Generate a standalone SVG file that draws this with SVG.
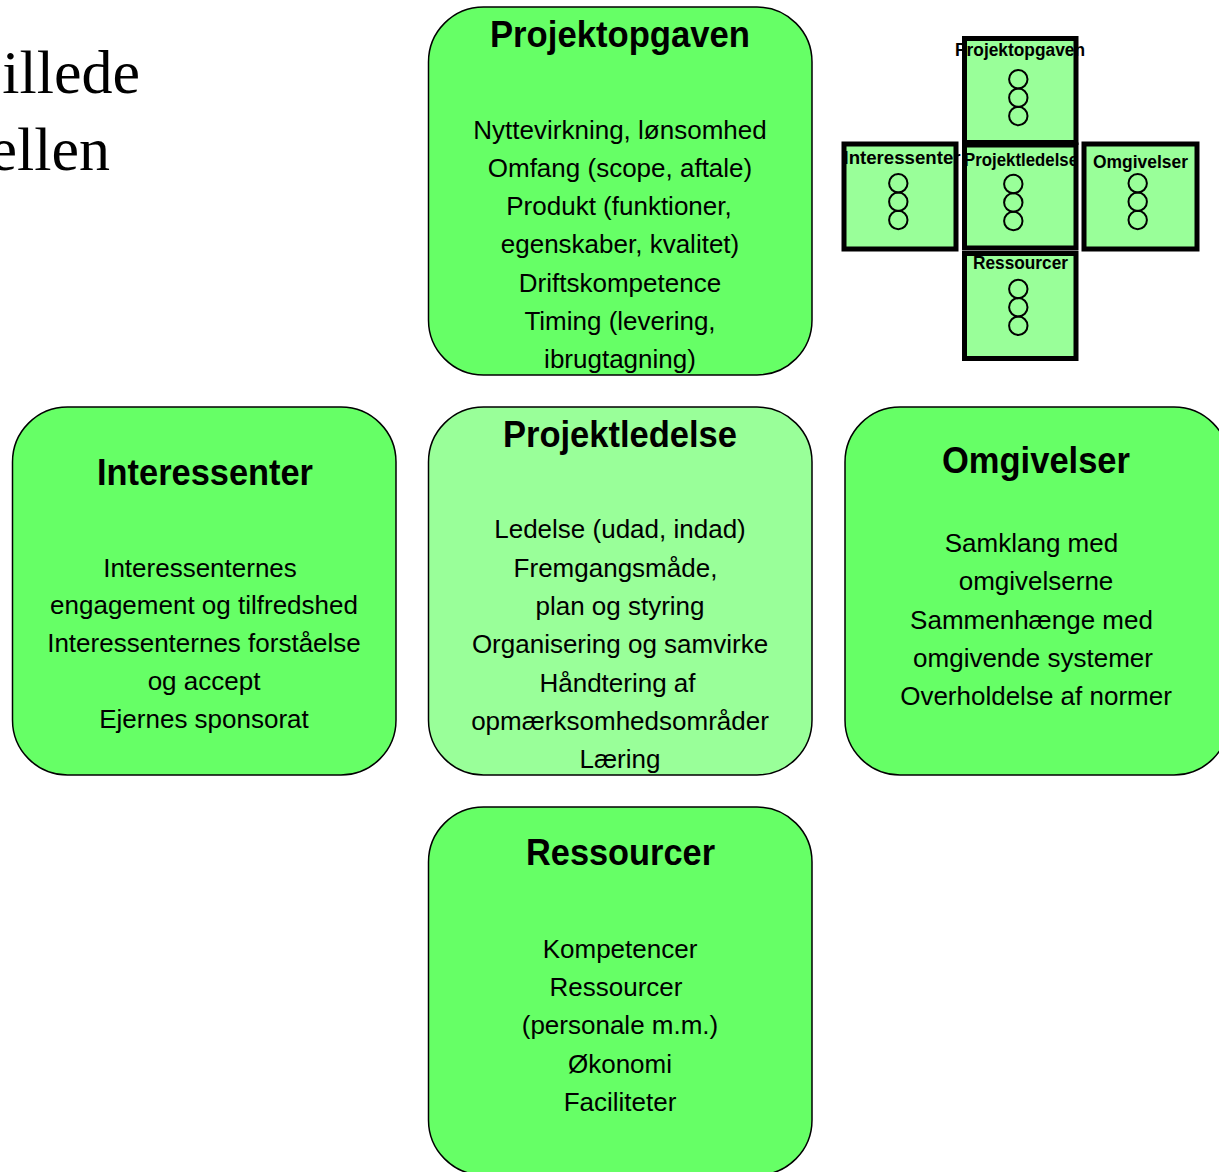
<svg xmlns="http://www.w3.org/2000/svg" width="1219" height="1172" viewBox="0 0 1219 1172">
  <style>
    .card { stroke: #000; stroke-width: 1.5; }
    .main { fill: #66FF66; }
    .core { fill: #99FF99; }
    .title { font-family: "Liberation Sans", Arial, sans-serif; font-weight: bold; font-size: 36px; text-anchor: middle; fill: #000; }
    .body { font-family: "Liberation Sans", Arial, sans-serif; font-size: 26px; text-anchor: middle; fill: #000; }
    .slide { font-family: "Liberation Serif", "Times New Roman", serif; font-size: 62px; text-anchor: end; fill: #000; }
    .mini { fill: #99FF99; }
    .miniEdge { fill: none; stroke: #000; stroke-width: 5; }
    .miniLabel { font-family: "Liberation Sans", Arial, sans-serif; font-weight: bold; font-size: 18px; text-anchor: middle; fill: #000; }
    .dot { fill: none; stroke: #000; stroke-width: 2; }
  </style>

  <rect width="1219" height="1172" fill="#FFFFFF"/>

  <!-- slide heading, running off the left edge -->
  <g id="heading">
    <text class="slide" x="140" y="93">illede</text>
    <text class="slide" x="110" y="170">ellen</text>
  </g>

  <!-- task -->
  <g id="projektopgaven">
    <rect class="card main" x="428.5" y="7" width="383.5" height="368" rx="55" ry="55"/>
    <text class="title" x="620" y="47" textLength="260" lengthAdjust="spacingAndGlyphs">Projektopgaven</text>
    <text class="body" x="620" y="139">Nyttevirkning, lønsomhed</text>
    <text class="body" x="620" y="177">Omfang (scope, aftale)</text>
    <text class="body" x="619" y="215">Produkt (funktioner,</text>
    <text class="body" x="620" y="253">egenskaber, kvalitet)</text>
    <text class="body" x="620" y="292">Driftskompetence</text>
    <text class="body" x="620" y="330">Timing (levering,</text>
    <text class="body" x="620" y="368">ibrugtagning)</text>
  </g>

  <!-- stakeholders -->
  <g id="interessenter">
    <rect class="card main" x="12.5" y="407" width="383.5" height="368" rx="55" ry="55"/>
    <text class="title" x="205" y="485" textLength="216" lengthAdjust="spacingAndGlyphs">Interessenter</text>
    <text class="body" x="200" y="577">Interessenternes</text>
    <text class="body" x="204" y="614">engagement og tilfredshed</text>
    <text class="body" x="204" y="652">Interessenternes forståelse</text>
    <text class="body" x="204" y="690">og accept</text>
    <text class="body" x="204" y="728">Ejernes sponsorat</text>
  </g>

  <!-- management (centre) -->
  <g id="projektledelse">
    <rect class="card core" x="428.5" y="407" width="383.5" height="368" rx="55" ry="55"/>
    <text class="title" x="620" y="447" textLength="234" lengthAdjust="spacingAndGlyphs">Projektledelse</text>
    <text class="body" x="620" y="538">Ledelse (udad, indad)</text>
    <text class="body" x="615.5" y="577">Fremgangsmåde,</text>
    <text class="body" x="620" y="615">plan og styring</text>
    <text class="body" x="620" y="653">Organisering og samvirke</text>
    <text class="body" x="617.5" y="692">Håndtering af</text>
    <text class="body" x="620" y="730">opmærksomhedsområder</text>
    <text class="body" x="620" y="768">Læring</text>
  </g>

  <!-- surroundings -->
  <g id="omgivelser">
    <rect class="card main" x="845" y="407" width="384" height="368" rx="55" ry="55"/>
    <text class="title" x="1036" y="473" textLength="188" lengthAdjust="spacingAndGlyphs">Omgivelser</text>
    <text class="body" x="1031.5" y="552">Samklang med</text>
    <text class="body" x="1036" y="590">omgivelserne</text>
    <text class="body" x="1031.5" y="629">Sammenhænge med</text>
    <text class="body" x="1033" y="667">omgivende systemer</text>
    <text class="body" x="1036" y="705">Overholdelse af normer</text>
  </g>

  <!-- resources -->
  <g id="ressourcer">
    <rect class="card main" x="428.5" y="807" width="383.5" height="368" rx="55" ry="55"/>
    <text class="title" x="620.5" y="865" textLength="189" lengthAdjust="spacingAndGlyphs">Ressourcer</text>
    <text class="body" x="620" y="958">Kompetencer</text>
    <text class="body" x="616" y="996">Ressourcer</text>
    <text class="body" x="620" y="1034">(personale m.m.)</text>
    <text class="body" x="620" y="1073">Økonomi</text>
    <text class="body" x="620" y="1111">Faciliteter</text>
  </g>

  <!-- miniature overview cross -->
  <g id="mini-projektopgaven">
    <rect class="mini" x="964.5" y="38.5" width="111.5" height="104"/>
    <text class="miniLabel" x="1020" y="56" textLength="130" lengthAdjust="spacingAndGlyphs">Projektopgaven</text>
    <circle class="dot" cx="1018.3" cy="79.3" r="9.2"/>
    <circle class="dot" cx="1018.3" cy="97.7" r="9.2"/>
    <circle class="dot" cx="1018.3" cy="116" r="9.2"/>
    <rect class="miniEdge" x="964.5" y="38.5" width="111.5" height="104"/>
  </g>
  <g id="mini-interessenter">
    <rect class="mini" x="844" y="144" width="112" height="105"/>
    <text class="miniLabel" x="902" y="164" textLength="117" lengthAdjust="spacingAndGlyphs">Interessenter</text>
    <circle class="dot" cx="898.3" cy="183.3" r="9.2"/>
    <circle class="dot" cx="898.3" cy="201.7" r="9.2"/>
    <circle class="dot" cx="898.3" cy="220" r="9.2"/>
    <rect class="miniEdge" x="844" y="144" width="112" height="105"/>
  </g>
  <g id="mini-projektledelse">
    <rect class="mini" x="964.5" y="145" width="111.5" height="103"/>
    <text class="miniLabel" x="1021" y="166" textLength="114" lengthAdjust="spacingAndGlyphs">Projektledelse</text>
    <circle class="dot" cx="1013.3" cy="184" r="9.2"/>
    <circle class="dot" cx="1013.3" cy="202.5" r="9.2"/>
    <circle class="dot" cx="1013.3" cy="221" r="9.2"/>
    <rect class="miniEdge" x="964.5" y="145" width="111.5" height="103"/>
  </g>
  <g id="mini-omgivelser">
    <rect class="mini" x="1084" y="144" width="113" height="105"/>
    <text class="miniLabel" x="1140.5" y="168" textLength="95" lengthAdjust="spacingAndGlyphs">Omgivelser</text>
    <circle class="dot" cx="1137.7" cy="183.3" r="9.2"/>
    <circle class="dot" cx="1137.7" cy="201.7" r="9.2"/>
    <circle class="dot" cx="1137.7" cy="220" r="9.2"/>
    <rect class="miniEdge" x="1084" y="144" width="113" height="105"/>
  </g>
  <g id="mini-ressourcer">
    <rect class="mini" x="964.5" y="253.5" width="111.5" height="105"/>
    <text class="miniLabel" x="1020.5" y="269" textLength="95" lengthAdjust="spacingAndGlyphs">Ressourcer</text>
    <circle class="dot" cx="1018.3" cy="289" r="9.2"/>
    <circle class="dot" cx="1018.3" cy="307.3" r="9.2"/>
    <circle class="dot" cx="1018.3" cy="325.7" r="9.2"/>
    <rect class="miniEdge" x="964.5" y="253.5" width="111.5" height="105"/>
  </g>
</svg>
